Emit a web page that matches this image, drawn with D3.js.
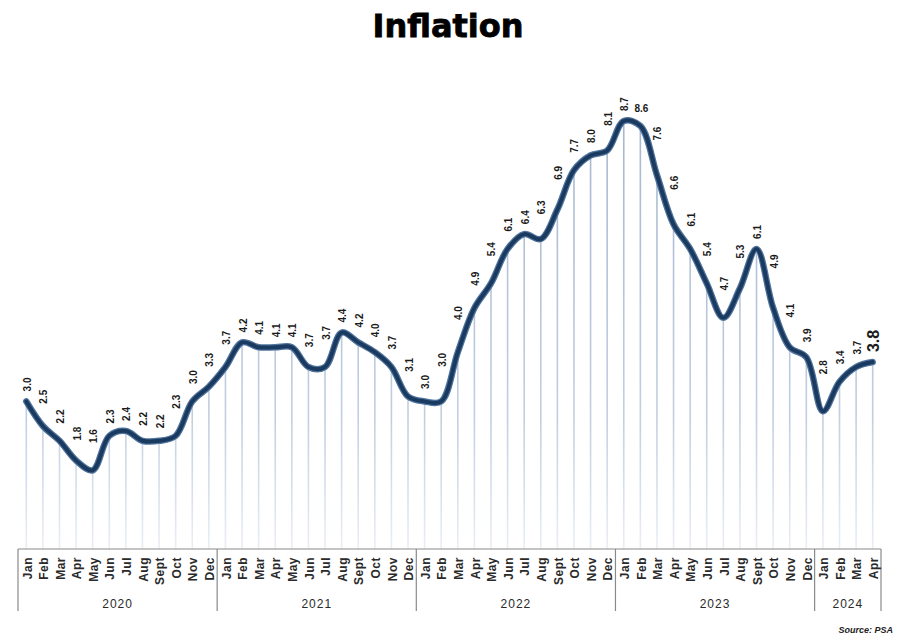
<!DOCTYPE html>
<html>
<head>
<meta charset="utf-8">
<script src="https://cdn.jsdelivr.net/npm/d3@7/dist/d3.min.js"></script>
<style>
  html, body { margin: 0; padding: 0; background: #fff; }
  svg { display: block; }
</style>
</head>
<body>
<div id="chart"></div>
<script>
// ---- Data ----
const monthNames = ["Jan","Feb","Mar","Apr","May","Jun","Jul","Aug","Sept","Oct","Nov","Dec"];
const years = ["2020","2021","2022","2023","2024"];
const monthsPerYear = [12, 12, 12, 12, 4];
const inflation = [
  3.0, 2.5, 2.2, 1.8, 1.6, 2.3, 2.4, 2.2, 2.2, 2.3, 3.0, 3.3,   // 2020
  3.7, 4.2, 4.1, 4.1, 4.1, 3.7, 3.7, 4.4, 4.2, 4.0, 3.7, 3.1,   // 2021
  3.0, 3.0, 4.0, 4.9, 5.4, 6.1, 6.4, 6.3, 6.9, 7.7, 8.0, 8.1,   // 2022
  8.7, 8.6, 7.6, 6.6, 6.1, 5.4, 4.7, 5.3, 6.1, 4.9, 4.1, 3.9,   // 2023
  2.8, 3.4, 3.7, 3.8                                            // 2024
];
const titleText = "Inflation";
const sourceText = "Source: PSA";
const horizontalLabelKey = "Feb 2023";
const emphasisLabelKey = "Apr 2024";

// Build period table
const periods = [];
years.forEach((y, yi) => {
  for (let m = 0; m < monthsPerYear[yi]; m++) {
    periods.push({ key: monthNames[m] + " " + y, month: monthNames[m], year: y });
  }
});
periods.forEach((p, i) => p.value = inflation[i]);

// ---- Layout ----
const W = 900, H = 641;
const axisY = 549;
const svg = d3.select("#chart").append("svg").attr("width", W).attr("height", H);

const x = d3.scaleBand().domain(d3.range(periods.length)).range([18, 881]).paddingInner(0).paddingOuter(0);
const bw = x.bandwidth();
const cx = i => x(i) + bw / 2;
const y = d3.scaleLinear().domain([0, 8.7]).range([axisY, 121]);

// gradient for drop lines
const defs = svg.append("defs");
const grad = defs.append("linearGradient").attr("id", "dropGrad")
  .attr("gradientUnits", "userSpaceOnUse").attr("x1", 0).attr("x2", 0).attr("y1", 120).attr("y2", axisY);
grad.append("stop").attr("offset", "0%").attr("stop-color", "#a5b7d0");
grad.append("stop").attr("offset", "70%").attr("stop-color", "#c3cfe1");
grad.append("stop").attr("offset", "100%").attr("stop-color", "#eaeef5");

// Title
svg.append("text").attr("x", 448).attr("y", 37).attr("text-anchor", "middle")
  .attr("font-family", "DejaVu Sans, sans-serif").attr("font-weight", "bold")
  .attr("font-size", 32).attr("fill", "#000")
  .attr("stroke", "#000").attr("stroke-width", 0.8).text(titleText);

// Drop lines
svg.append("g").selectAll("line").data(periods).join("line")
  .attr("x1", (d, i) => cx(i)).attr("x2", (d, i) => cx(i))
  .attr("y1", d => y(d.value)).attr("y2", axisY)
  .attr("stroke", "url(#dropGrad)").attr("stroke-width", 1.6);

// Line
const line = d3.line().x((d, i) => cx(i)).y(d => y(d.value)).curve(d3.curveCatmullRom.alpha(0.5));
svg.append("path").datum(periods).attr("d", line).attr("fill", "none")
  .attr("stroke", "#4f739c").attr("stroke-width", 6.5).attr("stroke-linejoin", "round").attr("stroke-linecap", "round");
svg.append("path").datum(periods).attr("d", line).attr("fill", "none")
  .attr("stroke", "#1b3a60").attr("stroke-width", 4).attr("stroke-linejoin", "round").attr("stroke-linecap", "round");

// Value labels
const labels = svg.append("g").attr("font-family", "Liberation Sans, Arial, sans-serif")
  .attr("font-weight", "bold").attr("fill", "#1a1a1a");
periods.forEach((d, i) => {
  const yi = y(d.value);
  let top = yi;
  if (i > 0) top = Math.min(top, (yi + y(periods[i - 1].value)) / 2);
  if (i < periods.length - 1) top = Math.min(top, (yi + y(periods[i + 1].value)) / 2);
  const base = top - 10;
  const txt = d.value.toFixed(1);
  if (d.key === horizontalLabelKey) {
    labels.append("text").attr("x", cx(i) + 1).attr("y", yi - 14)
      .attr("text-anchor", "middle").attr("font-size", 10).text(txt);
  } else {
    const big = d.key === emphasisLabelKey;
    labels.append("text")
      .attr("transform", `translate(${cx(i) + 1},${base}) rotate(-90)`)
      .attr("text-anchor", "start").attr("dy", "0.35em")
      .attr("font-size", big ? 16 : 10).text(txt);
  }
});

// Axis
const axisG = svg.append("g").attr("stroke", "#8a8a8a").attr("stroke-width", 1.2);
axisG.append("line").attr("x1", 18).attr("x2", 881).attr("y1", axisY).attr("y2", axisY);
// year separators
let idx = 0;
const bounds = [0];
monthsPerYear.forEach(n => { idx += n; bounds.push(idx); });
bounds.forEach(b => {
  const xx = b < periods.length ? x(b) : x(periods.length - 1) + bw;
  axisG.append("line").attr("x1", xx).attr("x2", xx).attr("y1", axisY).attr("y2", 611);
});

// Month labels
svg.append("g").selectAll("text").data(periods).join("text")
  .attr("transform", (d, i) => `translate(${cx(i) + 1},${axisY + 8}) rotate(-90)`)
  .attr("text-anchor", "end").attr("dy", "0.35em")
  .attr("font-family", "Liberation Sans, Arial, sans-serif").attr("font-weight", "bold")
  .attr("font-size", 12).attr("letter-spacing", 0.5).attr("fill", "#2a2a2a")
  .text(d => d.month);

// Year labels
years.forEach((yr, yi) => {
  const x0 = x(bounds[yi]);
  const x1 = bounds[yi + 1] < periods.length ? x(bounds[yi + 1]) : x(periods.length - 1) + bw;
  svg.append("text").attr("x", (x0 + x1) / 2).attr("y", 608).attr("text-anchor", "middle")
    .attr("font-family", "Liberation Sans, Arial, sans-serif").attr("font-size", 12)
    .attr("letter-spacing", 1).attr("fill", "#2a2a2a").text(yr);
});

// Source
svg.append("text").attr("x", 893).attr("y", 633).attr("text-anchor", "end")
  .attr("font-family", "Liberation Sans, Arial, sans-serif").attr("font-weight", "bold")
  .attr("font-style", "italic").attr("font-size", 9).attr("fill", "#222").text(sourceText);
</script>
</body>
</html>
